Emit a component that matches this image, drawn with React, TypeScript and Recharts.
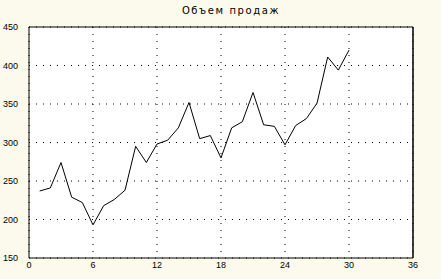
import React from "react";
import {
  LineChart,
  Line,
  XAxis,
  YAxis,
  CartesianGrid,
  ReferenceLine,
} from "recharts";

const periods = [
  1, 2, 3, 4, 5, 6, 7, 8, 9, 10, 11, 12, 13, 14, 15, 16, 17, 18, 19, 20, 21,
  22, 23, 24, 25, 26, 27, 28, 29, 30,
];
const sales = [
  237, 241, 274, 229, 222, 193, 218, 226, 238, 295, 274, 298, 303, 319, 352,
  305, 309, 280, 319, 327, 365, 323, 321, 297, 322, 331, 351, 411, 394, 420,
];
const xTicks = [0, 6, 12, 18, 24, 30, 36];
const yTicks = [150, 200, 250, 300, 350, 400, 450];

const data = periods.map((p, i) => ({ period: p, sales: sales[i] }));

const tickStyle = { fontSize: 9, fill: "#000", fontFamily: "Liberation Sans, Arial, sans-serif" };

const App: React.FC = () => {
  return (
    <div
      style={{
        position: "absolute",
        left: 0,
        top: 0,
        width: 441,
        height: 279,
        background: "#fcfaec",
      }}
    >
      <div
        style={{
          position: "absolute",
          top: 5,
          left: 0,
          width: 462,
          textAlign: "center",
          fontSize: 10,
          letterSpacing: 1.6,
          fontFamily: "DejaVu Sans, sans-serif",
          color: "#000",
        }}
      >
        Объем продаж
      </div>
      <LineChart
        width={441}
        height={279}
        data={data}
        margin={{ top: 27, right: 0, bottom: 0, left: 0 }}
      >
        <CartesianGrid
          yAxisId="left"
          stroke="#000"
          strokeDasharray="1 6"
          fill="#fff"
          fillOpacity={1}
        />
        <XAxis
          dataKey="period"
          type="number"
          domain={[0, 36]}
          ticks={xTicks}
          height={21}
          tickLine={false}
          axisLine={{ stroke: "#000" }}
          tick={tickStyle}
          tickMargin={-2}
          interval={0}
        />
        <YAxis
          yAxisId="left"
          domain={[150, 450]}
          ticks={yTicks}
          width={29}
          tickLine={false}
          axisLine={{ stroke: "#000" }}
          tick={tickStyle}
          tickMargin={5}
          interval={0}
        />
        <YAxis
          yAxisId="right"
          orientation="right"
          domain={[150, 450]}
          ticks={yTicks}
          width={28}
          tickLine={false}
          axisLine={{ stroke: "#000" }}
          tick={{ ...tickStyle, textAnchor: "start" }}
          tickMargin={2}
          interval={0}
        />
        <ReferenceLine yAxisId="left" y={450} stroke="#000" />
        <ReferenceLine yAxisId="left" x={36} stroke="#000" />
        <Line
          yAxisId="left"
          type="linear"
          dataKey="sales"
          stroke="#000"
          strokeWidth={1}
          dot={false}
          isAnimationActive={false}
        />
      </LineChart>
    </div>
  );
};

export default App;
